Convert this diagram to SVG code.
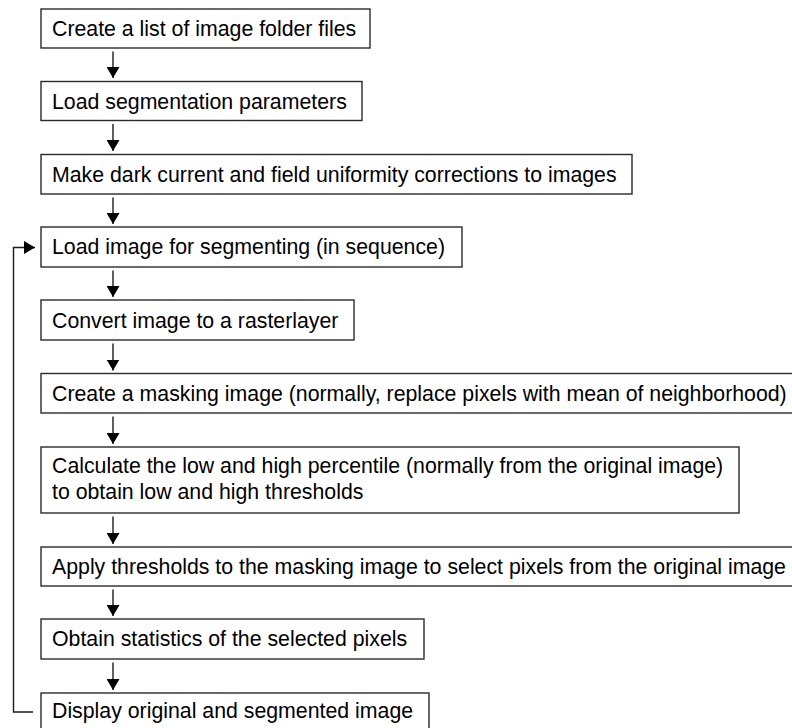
<svg xmlns="http://www.w3.org/2000/svg" width="792" height="728" viewBox="0 0 792 728">
<style>
.box{fill:#fff;stroke:#2a2a2a;stroke-width:1.4}
.t{font-family:"Liberation Sans",Arial,sans-serif;font-size:21.3px;fill:#000}
.c{fill:none;stroke:#1a1a1a;stroke-width:1.4}
</style>
<defs>
<marker id="ah" markerWidth="12" markerHeight="13" refX="11" refY="6.5" orient="auto" markerUnits="userSpaceOnUse">
<path d="M0,0 L11,6.5 L0,13 Z" fill="#000"/>
</marker>
</defs>
<rect width="792" height="728" fill="#fff"/>
<g id="n1"><rect class="box" x="41" y="9" width="329" height="39"/><text class="t" x="52" y="35.5">Create a list of image folder files</text></g>
<g id="n2"><rect class="box" x="41" y="81.5" width="321" height="39"/><text class="t" x="52" y="108.5">Load segmentation parameters</text></g>
<g id="n3"><rect class="box" x="41" y="154.5" width="591" height="39.5"/><text class="t" x="52" y="181.5">Make dark current and field uniformity corrections to images</text></g>
<g id="n4"><rect class="box" x="41" y="227" width="421" height="40"/><text class="t" x="52" y="254">Load image for segmenting (in sequence)</text></g>
<g id="n5"><rect class="box" x="41" y="300" width="313" height="40"/><text class="t" x="52" y="327.5">Convert image to a rasterlayer</text></g>
<g id="n6"><rect class="box" x="41" y="373.5" width="770" height="39.5"/><text class="t" x="52" y="400.5">Create a masking image (normally, replace pixels with mean of neighborhood)</text></g>
<g id="n7"><rect class="box" x="41" y="447" width="698" height="66"/><text class="t" x="52" y="473">Calculate the low and high percentile (normally from the original image)</text><text class="t" x="52" y="499">to obtain low and high thresholds</text></g>
<g id="n8"><rect class="box" x="41" y="547" width="770" height="39"/><text class="t" x="52" y="573.5">Apply thresholds to the masking image to select pixels from the original image</text></g>
<g id="n9"><rect class="box" x="41" y="619" width="383" height="40"/><text class="t" x="52" y="645.5">Obtain statistics of the selected pixels</text></g>
<g id="n10"><rect class="box" x="41" y="693" width="388" height="45"/><text class="t" x="52" y="718">Display original and segmented image</text></g>
<g id="connectors">
<line class="c" x1="113" y1="51.5" x2="113" y2="78" marker-end="url(#ah)"/>
<line class="c" x1="113" y1="124" x2="113" y2="151" marker-end="url(#ah)"/>
<line class="c" x1="113" y1="197.5" x2="113" y2="224" marker-end="url(#ah)"/>
<line class="c" x1="113" y1="270.5" x2="113" y2="297" marker-end="url(#ah)"/>
<line class="c" x1="113" y1="343.5" x2="113" y2="370.5" marker-end="url(#ah)"/>
<line class="c" x1="113" y1="416.5" x2="113" y2="444" marker-end="url(#ah)"/>
<line class="c" x1="113" y1="516.5" x2="113" y2="544" marker-end="url(#ah)"/>
<line class="c" x1="113" y1="589.5" x2="113" y2="616" marker-end="url(#ah)"/>
<line class="c" x1="113" y1="662.5" x2="113" y2="690" marker-end="url(#ah)"/>
<polyline class="c" points="33,712 13.5,712 13.5,247.5 35,247.5" marker-end="url(#ah)"/>
</g>
</svg>
